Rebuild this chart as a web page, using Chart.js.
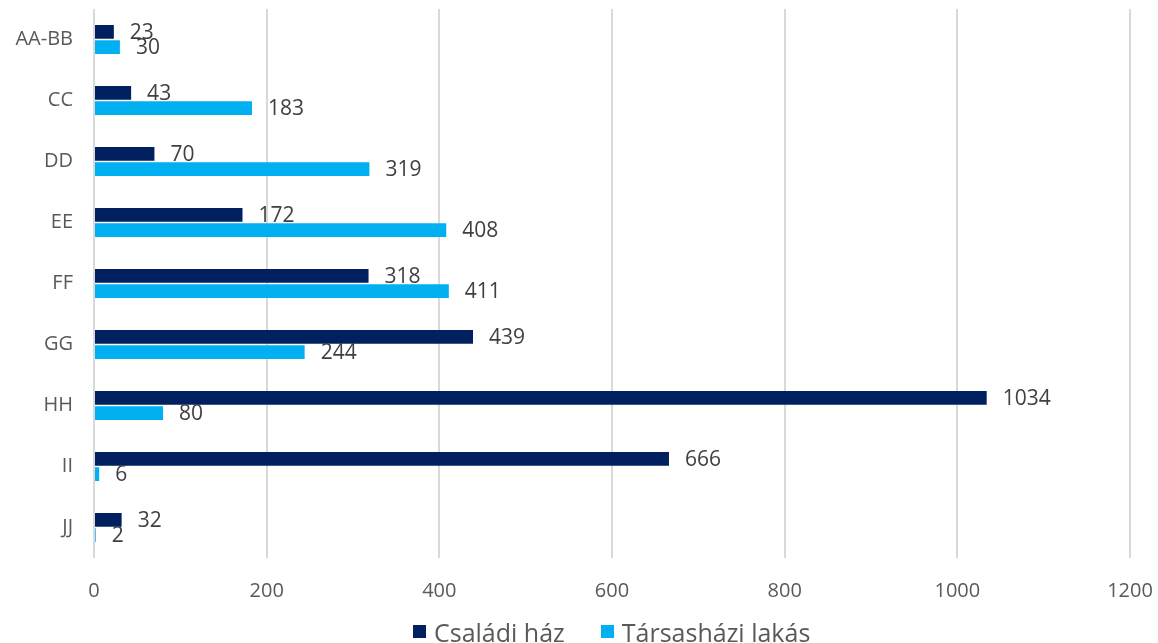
<!DOCTYPE html>
<html>
<head>
<meta charset="utf-8">
<script src="https://cdn.jsdelivr.net/npm/chart.js@4"></script>
<style>
  html, body { margin: 0; padding: 0; background: #fff; }
  #wrap { position: relative; width: 1158px; height: 643px; }
  #legend {
    position: absolute; left: 413px; top: 619px; height: 25px;
    display: flex; align-items: center;
    font: 25px 'Open Sans', 'Noto Sans', sans-serif; color: #595959;
  }
  #legend .item { display: flex; align-items: center; margin-right: 36px; white-space: nowrap; }
  #legend .box { width: 13px; height: 13px; margin-right: 8px; }
</style>
</head>
<body>
<div id="wrap">
  <canvas id="js-chart-lakas"></canvas>
  <div id="legend"></div>
</div>
<script>
const categories = ["AA-BB", "CC", "DD", "EE", "FF", "GG", "HH", "II", "JJ"];
const csaladiHaz = [23, 43, 70, 172, 318, 439, 1034, 666, 32];
const tarsashaziLakas = [30, 183, 319, 408, 411, 244, 80, 6, 2];
const xTicks = [0, 200, 400, 600, 800, 1000, 1200];

const FONT = "'Open Sans', 'Noto Sans', sans-serif";

// value labels at the end of each bar
const barLabels = {
    id: "barLabels",
    afterDatasetsDraw(chart) {
        const ctx = chart.ctx;
        ctx.save();
        ctx.font = "21px " + FONT;
        ctx.fillStyle = "#404040";
        ctx.textBaseline = "middle";
        ctx.textAlign = "left";
        chart.data.datasets.forEach((ds, i) => {
            chart.getDatasetMeta(i).data.forEach((bar, j) => {
                ctx.fillText(String(ds.data[j]), bar.x + 16, bar.y + 1);
            });
        });
        ctx.restore();
    }
};

// legend as html, built from the datasets
const htmlLegend = {
    id: "htmlLegend",
    afterUpdate(chart) {
        const box = document.getElementById("legend");
        box.innerHTML = "";
        chart.data.datasets.forEach((ds) => {
            const item = document.createElement("div");
            item.className = "item";
            const sw = document.createElement("span");
            sw.className = "box";
            sw.style.background = ds.backgroundColor;
            const txt = document.createElement("span");
            txt.textContent = ds.label;
            item.appendChild(sw);
            item.appendChild(txt);
            box.appendChild(item);
        });
    }
};

new Chart(document.getElementById("js-chart-lakas"), {
    type: "bar",
    data: {
        labels: categories,
        datasets: [
            { label: "Családi ház", data: csaladiHaz, backgroundColor: "#002060" },
            { label: "Társasházi lakás", data: tarsashaziLakas, backgroundColor: "#00b0f0" }
        ]
    },
    options: {
        indexAxis: "y",
        responsive: true,
        maintainAspectRatio: false,
        animation: false,
        categoryPercentage: 0.5,
        barPercentage: 0.9,
        layout: { padding: { top: 9, right: 28, left: 0, bottom: 19 } },
        scales: {
            x: {
                min: 0,
                max: 1200,
                afterBuildTicks: (s) => { s.ticks = xTicks.map((v) => ({ value: v })); },
                afterFit: (s) => { s.paddingLeft = 0; s.paddingRight = 0; },
                grid: { color: "#d9d9d9", lineWidth: 2, drawTicks: false },
                border: { display: false },
                ticks: {
                    color: "#595959",
                    font: { family: FONT, size: 20 },
                    padding: 21,
                    callback: (v) => String(v)
                }
            },
            y: {
                afterFit: (s) => { s.width = 94; s.paddingTop = 0; s.paddingBottom = 0; },
                grid: { display: false, drawTicks: false },
                border: { display: false },
                ticks: { color: "#595959", font: { family: FONT, size: 20 }, padding: 21 }
            }
        },
        plugins: {
            legend: { display: false },
            tooltip: { enabled: false }
        }
    },
    plugins: [barLabels, htmlLegend]
});
</script>
</body>
</html>
